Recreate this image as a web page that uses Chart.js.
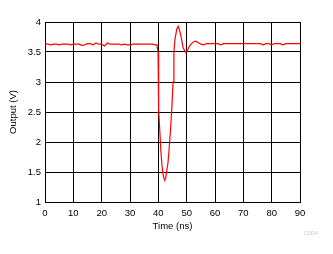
<!DOCTYPE html>
<html>
<head>
<meta charset="utf-8">
<script src="https://cdn.jsdelivr.net/npm/chart.js@4/dist/chart.umd.min.js"></script>
<style>
html, body { margin: 0; padding: 0; background: #fff; }
#wrap { width: 333px; height: 254px; }
</style>
</head>
<body>
<div id="wrap"><canvas id="outChart" width="333" height="254"></canvas></div>
<script>
// Output waveform, time in ns, output in V
const timeNs = [
  0, 1, 2, 3, 4, 5, 6, 7, 8, 9, 10, 11, 12, 13, 14, 15, 16, 17, 18, 19,
  20, 21, 22, 23, 24, 25, 26, 27, 28, 29, 30, 31, 32, 33, 34, 35, 36, 37, 38, 39,
  39.5, 39.9, 40.0, 40.2, 40.5, 40.9, 41.3, 41.7, 42.0, 42.3, 42.6, 42.9, 43.4, 43.8,
  44.3, 44.8, 45.2, 45.5, 45.9, 46.5, 47.0, 47.4, 48.1, 48.7, 49.3, 49.7, 50.5, 51.0,
  51.7, 52.5, 53.2, 54.0, 55.0, 56, 57, 58, 59, 60, 61, 62, 63, 64, 65, 66, 67, 68, 69,
  70, 71, 72, 73, 74, 75, 76, 77, 78, 79, 80, 81, 82, 83, 84, 85, 86, 87, 88, 89, 90
];
const outputV = [
  3.63, 3.63, 3.62, 3.63, 3.63, 3.62, 3.63, 3.63, 3.63, 3.62, 3.63, 3.63, 3.63, 3.61, 3.62, 3.64, 3.64, 3.62, 3.65, 3.63,
  3.63, 3.60, 3.65, 3.63, 3.63, 3.63, 3.63, 3.62, 3.63, 3.62, 3.62, 3.63, 3.63, 3.63, 3.63, 3.63, 3.63, 3.63, 3.63, 3.62,
  3.62, 3.50, 3.05, 2.55, 2.20, 1.85, 1.60, 1.45, 1.39, 1.37, 1.40, 1.50, 1.65, 1.88,
  2.20, 2.60, 3.00, 3.50, 3.72, 3.88, 3.93, 3.88, 3.74, 3.58, 3.52, 3.49, 3.55, 3.60,
  3.64, 3.67, 3.68, 3.66, 3.63, 3.62, 3.64, 3.64, 3.64, 3.64, 3.64, 3.62, 3.64, 3.64, 3.64, 3.64, 3.64, 3.64, 3.64,
  3.64, 3.64, 3.64, 3.64, 3.64, 3.64, 3.64, 3.62, 3.64, 3.64, 3.62, 3.64, 3.64, 3.64, 3.62, 3.64, 3.64, 3.64, 3.64, 3.64, 3.64
];
const xTicks = [0, 10, 20, 30, 40, 50, 60, 70, 80, 90];
const yTicks = [1, 1.5, 2, 2.5, 3, 3.5, 4];

const fontFamily = "'Liberation Sans', Arial, sans-serif";

// small grey figure id in the corner
const figureId = {
  id: 'figureId',
  afterDraw(chart) {
    const ctx = chart.ctx;
    ctx.save();
    ctx.font = '6px ' + fontFamily;
    ctx.fillStyle = '#c8c8c8';
    ctx.textAlign = 'right';
    ctx.textBaseline = 'middle';
    ctx.fillText('C004', 318, 233);
    ctx.restore();
  }
};

new Chart(document.getElementById('outChart'), {
  type: 'line',
  data: {
    datasets: [{
      data: timeNs.map((t, i) => ({ x: t, y: outputV[i] })),
      borderColor: '#ff0000',
      borderWidth: 1.2,
      pointRadius: 0,
      tension: 0,
      fill: false
    }]
  },
  options: {
    responsive: false,
    animation: false,
    layout: { padding: { left: 0, right: 33, top: 22, bottom: 0 } },
    plugins: { legend: { display: false }, tooltip: { enabled: false } },
    scales: {
      x: {
        type: 'linear',
        min: 0,
        max: 90,
        afterBuildTicks: (scale) => { scale.ticks = xTicks.map(v => ({ value: v })); },
        afterFit: (scale) => { scale.height = 52; },
        grid: { color: '#000', lineWidth: 1, drawTicks: false },
        border: { color: '#000', width: 1 },
        ticks: { color: '#000', padding: 6, maxRotation: 0, font: { family: fontFamily, size: 9.5 },
          callback: (v) => String(v) },
        title: { display: true, text: 'Time (ns)', color: '#000', padding: { top: 0, bottom: 22 }, font: { family: fontFamily, size: 9.5 } }
      },
      y: {
        type: 'linear',
        min: 1,
        max: 4,
        afterBuildTicks: (scale) => { scale.ticks = yTicks.map(v => ({ value: v })); },
        afterFit: (scale) => { scale.width = 45; },
        grid: { color: '#000', lineWidth: 1, drawTicks: false },
        border: { color: '#000', width: 1 },
        ticks: { color: '#000', padding: 4, font: { family: fontFamily, size: 9.5 },
          callback: (v) => String(v) },
        title: { display: true, text: 'Output (V)', color: '#000', padding: { top: 8, bottom: 0 }, font: { family: fontFamily, size: 9.5 } }
      }
    }
  },
  plugins: [figureId]
});
</script>
</body>
</html>
